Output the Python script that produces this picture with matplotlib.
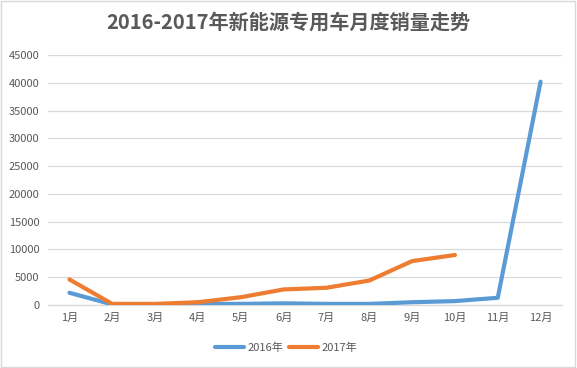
import matplotlib
matplotlib.use("Agg")
import matplotlib.pyplot as plt
from matplotlib.patches import Rectangle

plt.rcParams['font.family'] = ['Noto Sans CJK SC', 'DejaVu Sans']

months = ["1月", "2月", "3月", "4月", "5月", "6月", "7月", "8月", "9月", "10月", "11月", "12月"]
sales_2016 = [2200, 100, 100, 200, 200, 300, 200, 200, 500, 700, 1300, 40200]
sales_2017 = [4600, 200, 200, 500, 1400, 2800, 3100, 4400, 7900, 9000]
series_names = ["2016年", "2017年"]
yticks = [0, 5000, 10000, 15000, 20000, 25000, 30000, 35000, 40000, 45000]
title = "2016-2017年新能源专用车月度销量走势"

fig = plt.figure(figsize=(5.77, 3.68), dpi=100)
ax = fig.add_axes([48/577, 1-305/368, (562-48)/577, (305-55)/368])

x16 = list(range(len(sales_2016)))
x17 = list(range(len(sales_2017)))
ax.plot(x16, sales_2016, color="#5B9BD5", lw=3, solid_joinstyle="round", solid_capstyle="round", label=series_names[0], zorder=3)
ax.plot(x17, sales_2017, color="#ED7D31", lw=3, solid_joinstyle="round", solid_capstyle="round", label=series_names[1], zorder=4)

ax.set_xlim(-0.5, len(months) - 0.5)
ax.set_ylim(0, 45000)
ax.set_xticks(range(len(months)))
ax.set_xticklabels(months)
ax.set_yticks(yticks)
ax.set_yticklabels([str(v) for v in yticks])
ax.tick_params(axis='both', length=0, labelsize=8, colors="#595959")
ax.tick_params(axis='x', pad=6)
ax.tick_params(axis='y', pad=6)
ax.grid(axis='y', color="#D9D9D9", lw=0.9, zorder=0)
for s in ["top", "right", "left"]:
    ax.spines[s].set_visible(False)
ax.spines["bottom"].set_color("#D9D9D9")
ax.spines["bottom"].set_linewidth(0.9)

fig.text(0.5, 1-22/368, title, ha="center", va="center", fontsize=14.5, fontweight="bold", color="#595959")

leg = fig.legend(loc="center", bbox_to_anchor=(286/577, 1-348/368), ncol=2, frameon=False,
                 fontsize=8, handlelength=2.6, columnspacing=0.5, handletextpad=0.3)
for t in leg.get_texts():
    t.set_color("#595959")

fig.patches.append(Rectangle((0.002, 0.003), 0.995, 0.994, transform=fig.transFigure,
                             fill=False, edgecolor="#D9D9D9", lw=1))

fig.savefig("out.png", dpi=100)
